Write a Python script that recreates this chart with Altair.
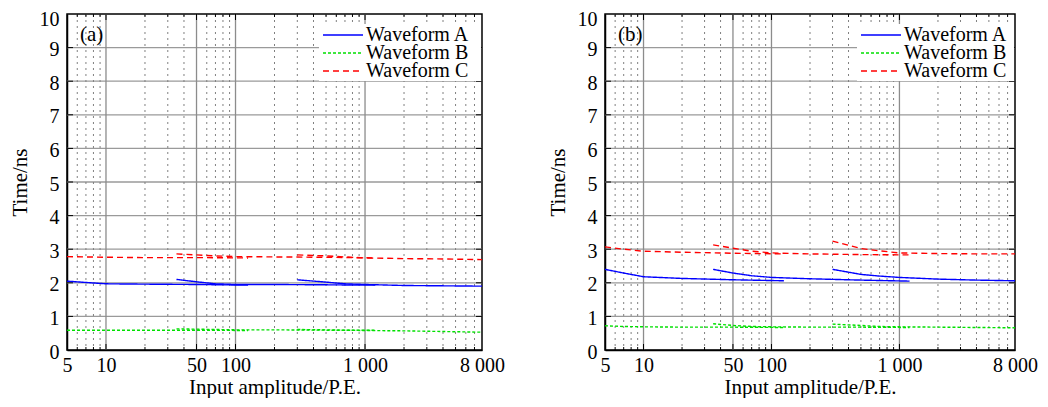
import altair as alt
import pandas as pd

SERIES = ["Waveform A", "Waveform B", "Waveform C"]
COLORS = ["#0000ff", "#00e000", "#ff0000"]
DASHES = [[1, 0], [3, 2], [6, 4]]

X_TICKS = [5, 10, 50, 100, 1000, 8000]
X_MAJOR_GRID = [10, 50, 100, 1000]
X_MINOR_GRID = [6, 7, 8, 9, 20, 30, 40, 60, 70, 80, 90,
                200, 300, 400, 500, 600, 700, 800, 900,
                2000, 3000, 4000, 5000, 6000, 7000]
Y_TICKS = [0, 1, 2, 3, 4, 5, 6, 7, 8, 9, 10]
Y_GRID = [1, 2, 3, 4, 5, 6, 7, 8, 9]

# x positions of the three overlapping measurement ranges
SEG1_X = [5, 7, 10, 20, 50, 125]
SEG2_X = [35, 50, 70, 100, 200, 500, 1200]
SEG3_X = [300, 500, 700, 1000, 2000, 4000, 8000]

# panel (a)
A_WA1 = [2.05, 2.01, 1.97, 1.96, 1.95, 1.93]
A_WA2 = [2.10, 2.03, 1.97, 1.95, 1.95, 1.94, 1.93]
A_WA3 = [2.09, 2.02, 1.97, 1.95, 1.92, 1.91, 1.90]
A_WB1 = [0.59, 0.59, 0.59, 0.59, 0.59, 0.58]
A_WB2 = [0.63, 0.62, 0.61, 0.60, 0.60, 0.59, 0.59]
A_WB3 = [0.61, 0.60, 0.59, 0.58, 0.57, 0.55, 0.53]
A_WC1 = [2.78, 2.77, 2.76, 2.75, 2.75, 2.74]
A_WC2 = [2.86, 2.83, 2.80, 2.78, 2.77, 2.76, 2.74]
A_WC3 = [2.83, 2.80, 2.77, 2.74, 2.72, 2.71, 2.69]

# panel (b)
B_WA1 = [2.40, 2.29, 2.18, 2.13, 2.09, 2.06]
B_WA2 = [2.40, 2.29, 2.21, 2.16, 2.12, 2.08, 2.05]
B_WA3 = [2.40, 2.25, 2.20, 2.16, 2.11, 2.08, 2.06]
B_WB1 = [0.72, 0.70, 0.69, 0.68, 0.68, 0.67]
B_WB2 = [0.78, 0.73, 0.70, 0.69, 0.68, 0.68, 0.67]
B_WB3 = [0.77, 0.73, 0.70, 0.69, 0.68, 0.67, 0.66]
B_WC1 = [3.07, 3.00, 2.94, 2.91, 2.88, 2.86]
B_WC2 = [3.13, 3.03, 2.94, 2.89, 2.86, 2.84, 2.83]
B_WC3 = [3.24, 3.02, 2.95, 2.89, 2.87, 2.86, 2.86]

PANELS = {
    "(a)": {"Waveform A": [A_WA1, A_WA2, A_WA3],
            "Waveform B": [A_WB1, A_WB2, A_WB3],
            "Waveform C": [A_WC1, A_WC2, A_WC3]},
    "(b)": {"Waveform A": [B_WA1, B_WA2, B_WA3],
            "Waveform B": [B_WB1, B_WB2, B_WB3],
            "Waveform C": [B_WC1, B_WC2, B_WC3]},
}

FONT = "Liberation Serif"
FS_TICK = 20
FS_TITLE = 21
FS_LEG = 20

rows = []
for tag, series in PANELS.items():
    for name, segs in series.items():
        for si, (xs, ys) in enumerate(zip([SEG1_X, SEG2_X, SEG3_X], segs)):
            for xv, yv in zip(xs, ys):
                rows.append({"panel": tag, "series": name, "seg": si, "x": xv, "y": yv})
df = pd.DataFrame(rows)

xscale = alt.Scale(type="log", domain=[5, 8000], nice=False)
yscale = alt.Scale(domain=[0, 10], nice=False)
cscale = alt.Scale(domain=SERIES, range=COLORS)
dscale = alt.Scale(domain=SERIES, range=DASHES)

xaxis = alt.Axis(values=X_TICKS, title="Input amplitude/P.E.", grid=False, ticks=False, tickSize=0,
                 labelFlush=False, labelOverlap=False, labelPadding=5, titlePadding=1,
                 labelFont=FONT, labelFontSize=FS_TICK, labelColor="black",
                 titleFont=FONT, titleFontSize=FS_TITLE, titleFontWeight="normal", titleColor="black",
                 domainColor="black", domainWidth=1.5,
                 labelExpr="datum.value >= 1000 ? replace(format(datum.value, ','), ',', ' ') : format(datum.value, 'd')")
yaxis = alt.Axis(values=Y_TICKS, title="Time/ns", grid=False, ticks=False, tickSize=0,
                 labelPadding=8, titlePadding=9, format="d",
                 labelBaseline={"condition": {"test": "datum.value == 10", "value": "top"}, "value": "middle"},
                 labelOffset={"condition": {"test": "datum.value == 10", "value": -5}, "value": 2},
                 labelFont=FONT, labelFontSize=FS_TICK, labelColor="black",
                 titleFont=FONT, titleFontSize=FS_TITLE, titleFontWeight="normal", titleColor="black",
                 domainColor="black", domainWidth=1.5)

H = 336


def panel(tag, W):
    d = df[df.panel == tag]
    ydf = pd.DataFrame({"y": Y_GRID})
    majdf = pd.DataFrame({"x": X_MAJOR_GRID})
    mindf = pd.DataFrame({"x": X_MINOR_GRID})
    Y = alt.Y("y:Q", scale=yscale, axis=yaxis)
    X = alt.X("x:Q", scale=xscale, axis=xaxis)

    hgrid = alt.Chart(ydf).mark_rule(color="#9a9a9a", strokeWidth=1.3).encode(y=Y)
    vmaj = alt.Chart(majdf).mark_rule(color="#8c8c8c", strokeWidth=1.3).encode(x=X)
    vmin = alt.Chart(mindf).mark_rule(color="#808080", strokeWidth=1, strokeDash=[2, 4]).encode(x=X)

    # inward tick marks on all four sides
    tk = dict(color="black", strokeWidth=1)
    ytl = alt.Chart(ydf).mark_rule(**tk).encode(y=Y, x=alt.value(0), x2=alt.value(6))
    ytr = alt.Chart(ydf).mark_rule(**tk).encode(y=Y, x=alt.value(W - 6), x2=alt.value(W))
    xmb = alt.Chart(majdf).mark_rule(**tk).encode(x=X, y=alt.value(H), y2=alt.value(H - 6))
    xmt = alt.Chart(majdf).mark_rule(**tk).encode(x=X, y=alt.value(0), y2=alt.value(6))
    xnb = alt.Chart(mindf).mark_rule(**tk).encode(x=X, y=alt.value(H), y2=alt.value(H - 3))
    xnt = alt.Chart(mindf).mark_rule(**tk).encode(x=X, y=alt.value(0), y2=alt.value(3))

    lines = alt.Chart(d).mark_line(strokeWidth=1.4).encode(
        x=X, y=Y,
        color=alt.Color("series:N", scale=cscale, legend=None),
        strokeDash=alt.StrokeDash("series:N", scale=dscale, legend=None),
        detail="seg:N",
        order="x:Q",
    )
    label = alt.Chart(pd.DataFrame({"t": [tag]})).mark_text(
        align="left", baseline="middle", font=FONT, fontSize=FS_TITLE, color="black").encode(
        text="t:N", x=alt.value(13), y=alt.value(21))
    main = alt.layer(hgrid, vmin, vmaj, ytl, ytr, xmb, xmt, xnb, xnt, lines, label)

    # legend box drawn inside the plot, rows placed by a point scale
    legdf = pd.DataFrame({"series": SERIES})
    LY = alt.Y("series:N", scale=alt.Scale(type="point", domain=SERIES, range=[21, 57], padding=0),
               axis=None)
    box = alt.Chart(pd.DataFrame({"k": [0]})).mark_rect(color="white").encode(
        x=alt.value(252), x2=alt.value(W - 1), y=alt.value(10), y2=alt.value(67))
    sym = alt.Chart(legdf).mark_rule(strokeWidth=1.5).encode(
        x=alt.value(256), x2=alt.value(296), y=LY,
        color=alt.Color("series:N", scale=cscale, legend=None),
        strokeDash=alt.StrokeDash("series:N", scale=dscale, legend=None))
    txt = alt.Chart(legdf).mark_text(align="left", baseline="middle", font=FONT,
                                     fontSize=FS_LEG, color="black").encode(
        x=alt.value(299), y=LY, text="series:N")
    legend = alt.layer(box, sym, txt)

    return alt.layer(main, legend).resolve_scale(y="independent").properties(width=W, height=H)


chart = alt.hconcat(panel("(a)", 415), panel("(b)", 410), spacing=40).properties(
    padding={"left": 0, "top": 0, "right": 0, "bottom": 0},
    background="white"
).configure_view(
    stroke="black", strokeWidth=1.5
)

chart.save("out.html", embed_options={"renderer": "svg", "actions": False})
